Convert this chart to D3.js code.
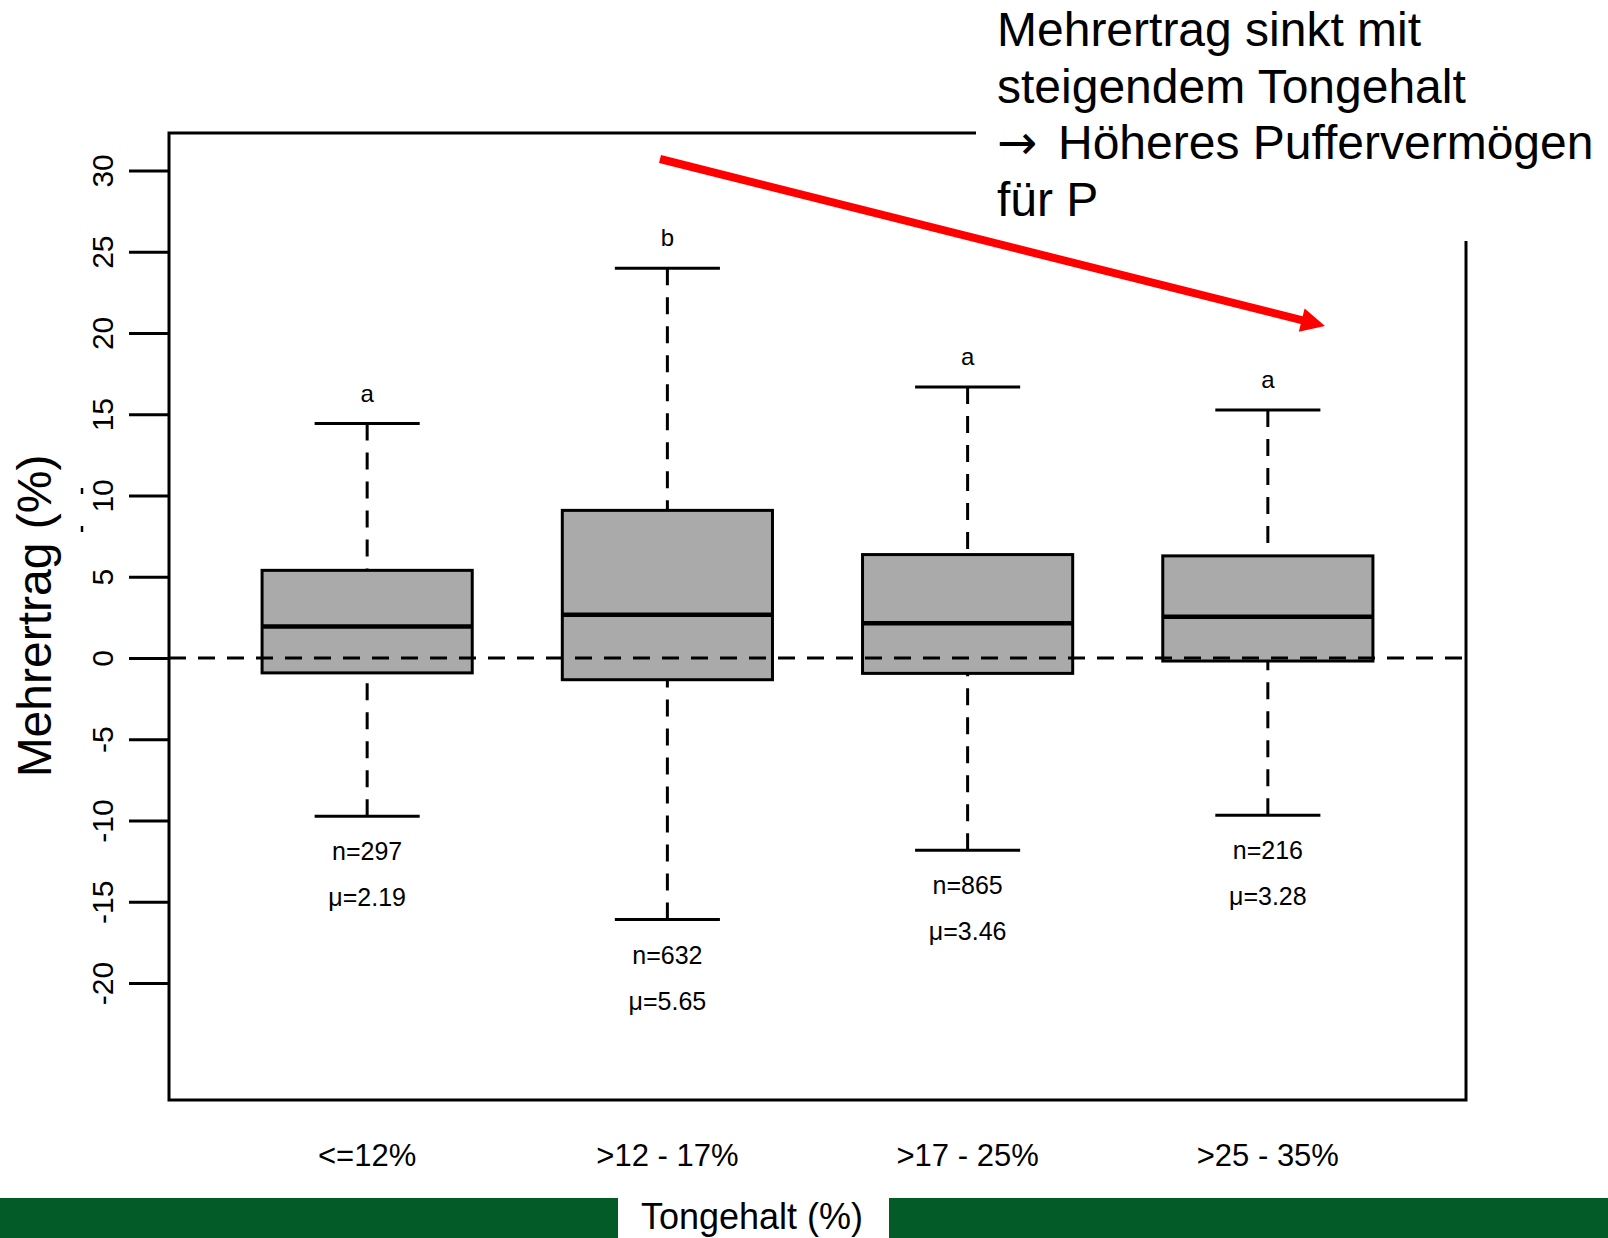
<!DOCTYPE html>
<html>
<head>
<meta charset="utf-8">
<script src="https://cdn.jsdelivr.net/npm/d3@7"></script>
<style>
  html, body { margin: 0; padding: 0; background: #fff; }
  svg { display: block; font-family: "Liberation Sans", Arial, sans-serif; }
</style>
</head>
<body>
<svg width="1608" height="1238"></svg>
<script>
// values
const categories = ["<=12%", ">12 - 17%", ">17 - 25%", ">25 - 35%"];
const lowerWhisker = [-9.74, -16.1, -11.83, -9.68];
const q1 = [-0.92, -1.34, -0.95, -0.19];
const median = [1.94, 2.66, 2.14, 2.54];
const q3 = [5.39, 9.08, 6.36, 6.28];
const upperWhisker = [14.42, 23.98, 16.67, 15.25];
const groupLetters = ["a", "b", "a", "a"];
const nCounts = [297, 632, 865, 216];
const means = ["2.19", "5.65", "3.46", "3.28"];
const yTicks = [-20, -15, -10, -5, 0, 5, 10, 15, 20, 25, 30];

const noteLines = ["Mehrertrag sinkt mit", "steigendem Tongehalt", "Höheres Puffervermögen", "für P"];

const boxes = categories.map((c, i) => ({
  cat: c, lo: lowerWhisker[i], q1: q1[i], med: median[i], q3: q3[i], hi: upperWhisker[i],
  letter: groupLetters[i], n: nCounts[i], mean: means[i]
}));

const svg = d3.select("svg");
const plot = {left: 169, right: 1466, top: 133, bottom: 1100};

const x = d3.scalePoint()
  .domain(categories)
  .range([plot.left, plot.right])
  .padding(0.66);
const step = x.step();

const y = d3.scaleLinear()
  .domain([-27.2, 32.3])
  .range([plot.bottom, plot.top]);

const dash = "17,12";

// frame
svg.append("rect")
  .attr("x", plot.left).attr("y", plot.top)
  .attr("width", plot.right - plot.left).attr("height", plot.bottom - plot.top)
  .attr("fill", "none").attr("stroke", "#000").attr("stroke-width", 3);

// y axis (R style: plain hyphen minus)
const yAxis = svg.append("g")
  .attr("transform", `translate(${plot.left},0)`)
  .call(d3.axisLeft(y).tickValues(yTicks).tickSize(40).tickFormat(d => String(d)));
yAxis.select(".domain").remove();
yAxis.selectAll(".tick line").attr("stroke", "#000").attr("stroke-width", 3);
yAxis.selectAll(".tick text")
  .attr("x", null).attr("dy", null)
  .attr("transform", "translate(-56,0) rotate(-90)")
  .attr("text-anchor", "middle")
  .attr("fill", "#000")
  .style("font-size", "30px")
  .style("font-family", "'Liberation Sans', Arial, sans-serif");

// stray marks next to the axis labels
svg.append("g").attr("stroke", "#000").attr("stroke-width", 2.5)
  .selectAll("line").data([[488, 494], [526, 532]]).join("line")
  .attr("x1", 82).attr("x2", 82)
  .attr("y1", d => d[0]).attr("y2", d => d[1]);

// boxes
const g = svg.append("g").selectAll("g").data(boxes).join("g")
  .attr("transform", d => `translate(${x(d.cat)},0)`);

const bw = step * 0.7, cw = step * 0.35;

g.append("line")
  .attr("x1", 0).attr("x2", 0)
  .attr("y1", d => y(d.hi)).attr("y2", d => y(d.q3))
  .attr("stroke", "#000").attr("stroke-width", 3).attr("stroke-dasharray", dash);
g.append("line")
  .attr("x1", 0).attr("x2", 0)
  .attr("y1", d => y(d.lo)).attr("y2", d => y(d.q1))
  .attr("stroke", "#000").attr("stroke-width", 3).attr("stroke-dasharray", dash);

g.selectAll(".cap").data(d => [d.hi, d.lo]).join("line")
  .attr("class", "cap")
  .attr("x1", -cw / 2).attr("x2", cw / 2)
  .attr("y1", v => y(v)).attr("y2", v => y(v))
  .attr("stroke", "#000").attr("stroke-width", 3);

g.append("rect")
  .attr("x", -bw / 2).attr("width", bw)
  .attr("y", d => y(d.q3)).attr("height", d => y(d.q1) - y(d.q3))
  .attr("fill", "#aaaaaa").attr("stroke", "#000").attr("stroke-width", 3);

g.append("line")
  .attr("x1", -bw / 2).attr("x2", bw / 2)
  .attr("y1", d => y(d.med)).attr("y2", d => y(d.med))
  .attr("stroke", "#000").attr("stroke-width", 4.5);

g.append("text")
  .attr("y", d => y(d.hi) - 22)
  .attr("text-anchor", "middle").style("font-size", "24px")
  .text(d => d.letter);

g.append("text")
  .attr("y", d => y(d.lo) + 44)
  .attr("text-anchor", "middle").style("font-size", "25px")
  .text(d => "n=" + d.n);

g.append("text")
  .attr("y", d => y(d.lo) + 90)
  .attr("text-anchor", "middle").style("font-size", "25px")
  .text(d => "\u03bc=" + d.mean);

// zero reference line
svg.append("line")
  .attr("x1", plot.left).attr("x2", plot.right)
  .attr("y1", y(0)).attr("y2", y(0))
  .attr("stroke", "#000").attr("stroke-width", 3).attr("stroke-dasharray", dash);

// x category labels
svg.append("g").selectAll("text").data(categories).join("text")
  .attr("x", d => x(d)).attr("y", 1166)
  .attr("text-anchor", "middle").style("font-size", "31px")
  .text(d => d);

// y title
svg.append("text")
  .attr("transform", "translate(51,616) rotate(-90)")
  .attr("text-anchor", "middle").style("font-size", "48px")
  .text("Mehrertrag (%)");

// green footer bars
svg.append("rect").attr("x", 0).attr("y", 1198).attr("width", 618).attr("height", 40).attr("fill", "#035b28");
svg.append("rect").attr("x", 889).attr("y", 1198).attr("width", 719).attr("height", 40).attr("fill", "#035b28");
svg.append("text")
  .attr("x", 752).attr("y", 1229)
  .attr("text-anchor", "middle").style("font-size", "36px")
  .text("Tongehalt (%)");

// annotation box (covers frame corner)
svg.append("rect").attr("x", 976).attr("y", 0).attr("width", 632).attr("height", 241).attr("fill", "#fff");
const note = svg.append("g").selectAll("text").data(noteLines).join("text")
  .attr("x", 997).attr("y", (d, i) => 46 + i * 56.7)
  .style("font-size", "48px");
note.each(function(d, i) {
  const t = d3.select(this);
  if (i === 2) {
    t.append("tspan").style("font-family", "'DejaVu Sans', sans-serif").text("\u2192");
    t.append("tspan").attr("x", 1058).text(d);
  } else {
    t.text(d);
  }
});

// red trend arrow
const arrowFrom = [660, 159], arrowTip = [1325, 326];
const dx = arrowTip[0] - arrowFrom[0], dy = arrowTip[1] - arrowFrom[1];
const len = Math.hypot(dx, dy), ux = dx / len, uy = dy / len;
const headLen = 24, headHalf = 12;
const base = [arrowTip[0] - ux * headLen, arrowTip[1] - uy * headLen];
svg.append("line")
  .attr("x1", arrowFrom[0]).attr("y1", arrowFrom[1])
  .attr("x2", base[0] + ux * 2).attr("y2", base[1] + uy * 2)
  .attr("stroke", "#ff0000").attr("stroke-width", 8);
svg.append("path")
  .attr("d", d3.line()([
    arrowTip,
    [base[0] - uy * headHalf, base[1] + ux * headHalf],
    [base[0] + uy * headHalf, base[1] - ux * headHalf]
  ]) + "Z")
  .attr("fill", "#ff0000");
</script>
</body>
</html>
